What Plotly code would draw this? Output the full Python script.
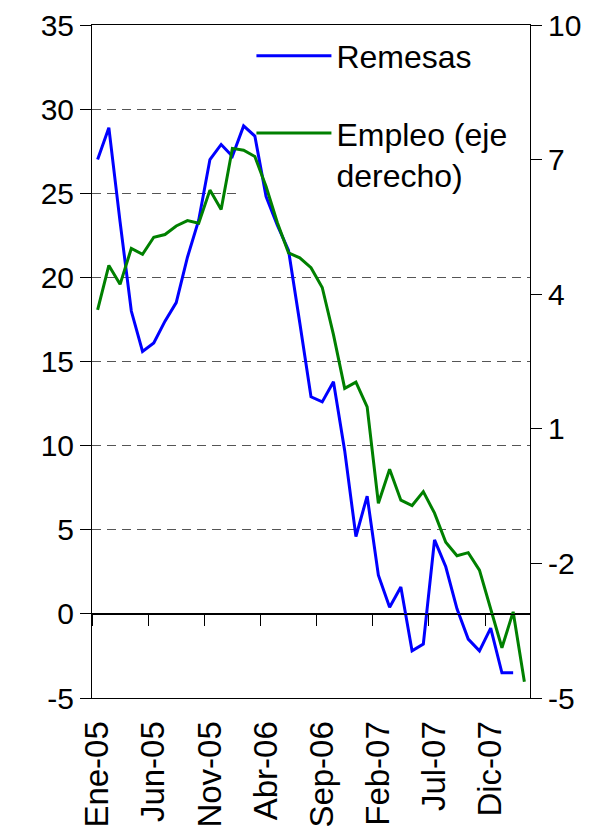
import plotly.graph_objects as go

months = ["Ene-05","Feb-05","Mar-05","Abr-05","May-05","Jun-05","Jul-05","Ago-05","Sep-05","Oct-05","Nov-05","Dic-05",
          "Ene-06","Feb-06","Mar-06","Abr-06","May-06","Jun-06","Jul-06","Ago-06","Sep-06","Oct-06","Nov-06","Dic-06",
          "Ene-07","Feb-07","Mar-07","Abr-07","May-07","Jun-07","Jul-07","Ago-07","Sep-07","Oct-07","Nov-07","Dic-07",
          "Ene-08","Feb-08","Mar-08"]

remesas = [27.0, 28.9, 23.3, 18.0, 15.6, 16.1, 17.4, 18.5, 21.2, 23.4, 27.0, 27.9,
           27.2, 29.0, 28.4, 24.8, 23.1, 21.6, 17.3, 12.9, 12.6, 13.8, 9.7, 4.6,
           7.0, 2.3, 0.4, 1.6, -2.2, -1.8, 4.4, 2.8, 0.3, -1.5, -2.2, -0.85,
           -3.5, -3.5]

empleo = [3.65, 4.64, 4.22, 5.02, 4.89, 5.27, 5.33, 5.52, 5.64, 5.58, 6.32, 5.89,
          7.25, 7.21, 7.07, 6.40, 5.60, 4.92, 4.81, 4.59, 4.15, 3.10, 1.90, 2.04,
          1.49, -0.66, 0.10, -0.59, -0.71, -0.40, -0.88, -1.53, -1.83, -1.76, -2.15, -3.00,
          -3.88, -3.08, -4.64]

left_ticks = [-5, 0, 5, 10, 15, 20, 25, 30, 35]
right_ticks = [-5, -2, 1, 4, 7, 10]
label_months = months[::5][:8]

FONT = "Liberation Sans, Arial, sans-serif"

fig = go.Figure()
fig.add_trace(go.Scatter(x=months[:len(remesas)], y=remesas, mode="lines", name="Remesas",
                         line=dict(color="#0000FF", width=3), legend="legend"))
fig.add_trace(go.Scatter(x=months, y=empleo, mode="lines", name="Empleo (eje<br>derecho)",
                         line=dict(color="#008000", width=3), yaxis="y2", legend="legend2"))
# invisible helper trace for the zero-crossing category axis
fig.add_trace(go.Scatter(x=months, y=[None]*len(months), xaxis="x2", yaxis="y",
                         showlegend=False, hoverinfo="skip", mode="lines"))

n = len(months)
fig.update_layout(
    width=606, height=832,
    margin=dict(l=84, r=84, t=17, b=142),
    paper_bgcolor="white", plot_bgcolor="white",
    font=dict(family=FONT, color="black"),
    showlegend=True,
    xaxis=dict(type="category", categoryorder="array", categoryarray=months,
               range=[-0.5, n - 0.5], tickmode="array", tickvals=label_months, ticktext=label_months,
               tickangle=-90, tickfont=dict(size=33, family=FONT), ticks="", automargin=False,
               showline=True, linecolor="black", linewidth=1, mirror=True, showgrid=False,
               zeroline=False, ticklabelstandoff=9),
    xaxis2=dict(type="linear", overlaying="x", anchor="free", position=0.125, side="bottom",
                range=[-0.5, n - 0.5], tickmode="array", tickvals=[k * 5 - 0.5 for k in range(8)],
                ticks="outside", ticklen=11, tickcolor="black", showticklabels=False, automargin=False,
                showline=True, linecolor="black", linewidth=1, showgrid=False, zeroline=False),
    yaxis=dict(range=[-5, 35], tickmode="array", tickvals=left_ticks,
               ticktext=[str(v) for v in left_ticks], automargin=False,
               ticks="outside", ticklen=11, tickcolor="black", tickfont=dict(size=30, family=FONT),
               showline=True, linecolor="black", linewidth=1,
               showgrid=True, gridcolor="#555555", gridwidth=1, griddash="9px,6px",
               zeroline=True, zerolinecolor="black", zerolinewidth=1),
    yaxis2=dict(range=[-5, 10], overlaying="y", side="right", tickmode="array", tickvals=right_ticks,
                ticktext=[str(v) for v in right_ticks], automargin=False,
                ticks="outside", ticklen=11, tickcolor="black", tickfont=dict(size=30, family=FONT),
                showline=True, linecolor="black", linewidth=1, showgrid=False, zeroline=False),
    legend=dict(x=0.364, y=0.995, xanchor="left", yanchor="top", bgcolor="rgba(0,0,0,0)",
                font=dict(size=32, family=FONT), itemwidth=75),
    legend2=dict(x=0.364, y=0.88, xanchor="left", yanchor="top", bgcolor="rgba(0,0,0,0)",
                 font=dict(size=32, family=FONT), itemwidth=75, valign="top"),
    shapes=[dict(type="rect", xref="x", yref="y", x0=12.5, x1=n - 0.5, y0=24.3, y1=35,
                 fillcolor="white", line=dict(width=0), layer="between")],
)

fig.write_html("out.html")
